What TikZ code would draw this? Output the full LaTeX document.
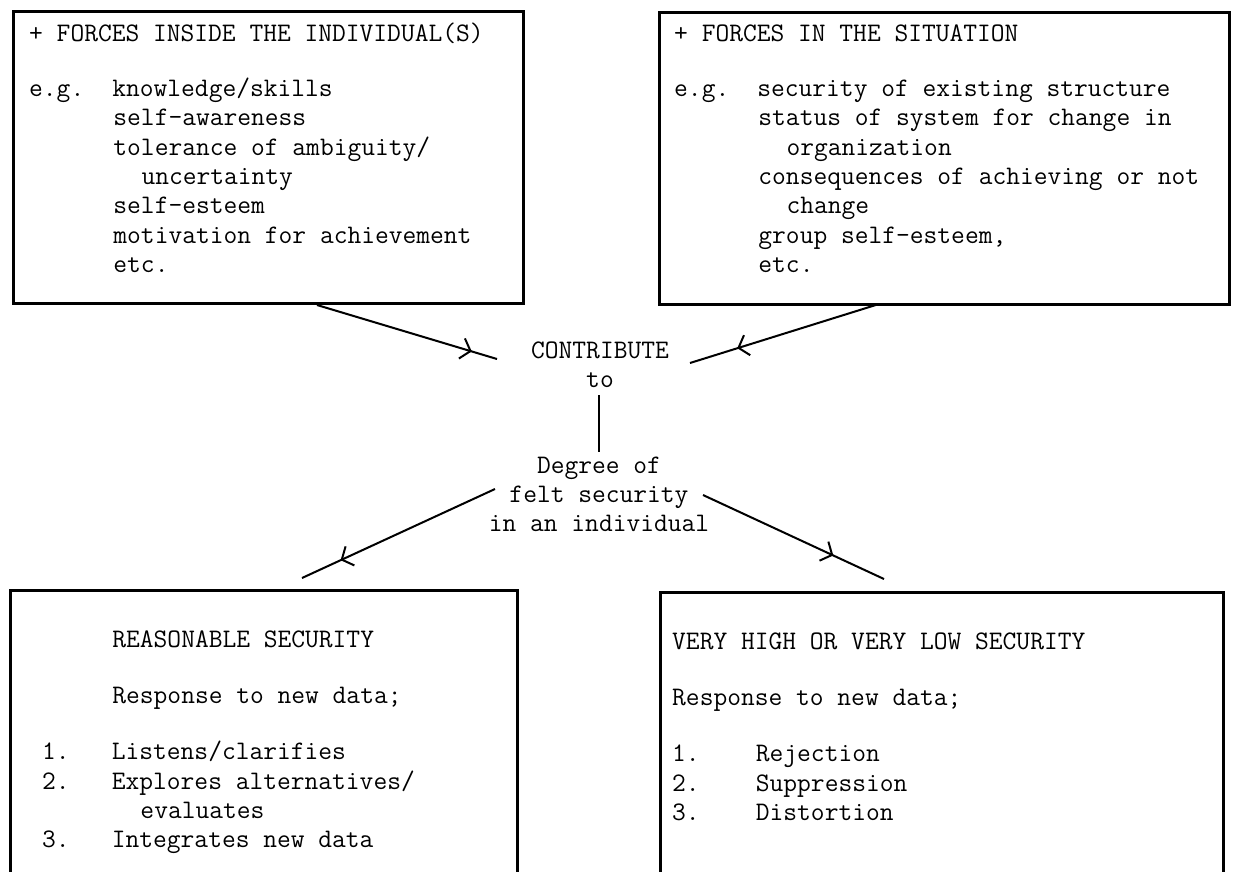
\documentclass[tikz,border=0pt]{standalone}
\usepackage{fontspec}
\usetikzlibrary{arrows.meta,decorations.markings,calc}

% one character cell of the typewriter face (Latin Modern Mono, 0.525em)
\newlength\cw
\setlength\cw{14.04pt}
\newcommand\chsp[1]{\hspace*{#1\cw}}
% fixed height of a first line, so that its baseline sits 22pt below the top
\newcommand\firstln{\rule{0pt}{22pt}}
\newcommand\typeface{\ttfamily\fontsize{26.74}{29.3}\selectfont\addfontfeature{FakeBold=1.5}}

\begin{document}
\begin{tikzpicture}[x=1pt,y=-1pt,
  frame/.style={draw, line width=2.6pt, anchor=north west, inner sep=0pt},
  txt/.style={anchor=north west, align=left, inner sep=0pt, font=\typeface},
  ctxt/.style={anchor=north, align=center, inner sep=0pt, font=\typeface},
  link/.style={line width=2pt},
  tipat/.style={postaction={decorate}, decoration={markings,
    mark=at position #1 with {\arrow{Straight Barb[length=9pt,width=21pt,line width=2pt]}}}}
]
\useasboundingbox (0,0) rectangle (1233,871);
\clip (0,0) rectangle (1233,871);

% the four boxes
\node[frame, minimum width=510pt, minimum height=292pt] (inside) at (12,10) {};
\node[frame, minimum width=570pt, minimum height=292pt] (situation) at (658,11) {};
\node[frame, minimum width=507pt, minimum height=310pt] (reasonable) at (9,589) {};
\node[frame, minimum width=563pt, minimum height=310pt] (extreme) at (659,591) {};

% box texts (first baselines at y = 41 and y = 647)
\node[txt] (insidetext) at (29,19) {\firstln+ FORCES INSIDE THE INDIVIDUAL(S)\\[26pt]
e.g.\chsp{2}knowledge/skills\\
\chsp{6}self-awareness\\
\chsp{6}tolerance of ambiguity/\\
\chsp{8}uncertainty\\
\chsp{6}self-esteem\\
\chsp{6}motivation for achievement\\
\chsp{6}etc.};

\node[txt] (situationtext) at (674,19) {\firstln+ FORCES IN THE SITUATION\\[26pt]
e.g.\chsp{2}security of existing structure\\
\chsp{6}status of system for change in\\
\chsp{8}organization\\
\chsp{6}consequences of achieving or not\\
\chsp{8}change\\
\chsp{6}group self-esteem,\\
\chsp{6}etc.};

\node[txt] (reasonabletext) at (42,625) {\firstln\chsp{5}REASONABLE SECURITY\\[27pt]
\chsp{5}Response to new data;\\[27pt]
1.\chsp{3}Listens/clarifies\\
2.\chsp{3}Explores alternatives/\\
\chsp{7}evaluates\\
3.\chsp{3}Integrates new data};

\node[txt] (extremetext) at (672,627) {\firstln VERY HIGH OR VERY LOW SECURITY\\[27pt]
Response to new data;\\[27pt]
1.\chsp{4}Rejection\\
2.\chsp{4}Suppression\\
3.\chsp{4}Distortion};

% centre texts (first baselines at y = 358 and y = 473)
\node[ctxt] (contrib) at (600,336) {\firstln CONTRIBUTE\\to};
\node[ctxt] (degree) at (599,451) {\firstln Degree of\\felt security\\in an individual};

% connector ends
\coordinate (a1s) at (317,305);
\coordinate (a1e) at (497,359);
\coordinate (a2s) at (879,304);
\coordinate (a2e) at (690,363);
\coordinate (a3s) at (495,489);
\coordinate (a3e) at (302,578);
\coordinate (a4s) at (703,495);
\coordinate (a4e) at (884,579);
\coordinate (vtop) at (599,395);
\coordinate (vbot) at (599,452);

\draw[link, tipat=0.86] (a1s) -- (a1e);
\draw[link, tipat=0.75] (a2s) -- (a2e);
\draw[link] (vtop) -- (vbot);
\draw[link, tipat=0.80] (a3s) -- (a3e);
\draw[link, tipat=0.72] (a4s) -- (a4e);
\end{tikzpicture}
\end{document}
